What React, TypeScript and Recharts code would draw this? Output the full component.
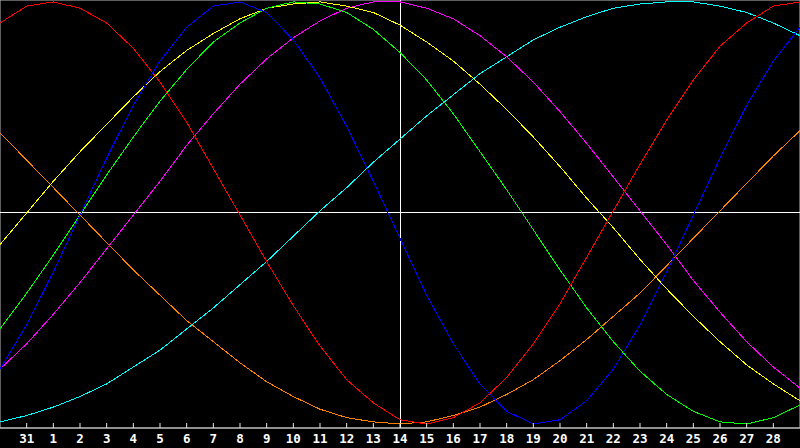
import { LineChart, Line, XAxis, YAxis, ReferenceLine, ReferenceArea } from "recharts";

// one point per day, from the 30th of last month to the 29th
const dayLabels = [
  "30", "31", "1", "2", "3", "4", "5", "6", "7", "8", "9", "10", "11", "12", "13", "14",
  "15", "16", "17", "18", "19", "20", "21", "22", "23", "24", "25", "26", "27", "28", "29",
];
const tickIdx = [1, 2, 3, 4, 5, 6, 7, 8, 9, 10, 11, 12, 13, 14, 15, 16, 17, 18, 19, 20, 21, 22, 23, 24, 25, 26, 27, 28, 29];
const today = 15;

const physical = [-74, -53, -28, -1, 26, 51, 72, 88, 98, 100, 95, 82, 64, 41, 15, -12, -39, -62, -81, -94, -100, -98, -89, -74, -53, -28, -1, 26, 51, 72, 88];
const emotional = [90, 98, 100, 97, 90, 78, 62, 43, 21, -1, -23, -44, -63, -79, -90, -98, -100, -97, -90, -78, -62, -43, -21, 1, 23, 44, 63, 79, 90, 98, 100];
const intellectual = [-55, -38, -20, -1, 18, 36, 53, 68, 81, 90, 97, 100, 99, 95, 87, 76, 63, 47, 29, 11, -8, -27, -45, -61, -75, -86, -94, -99, -100, -97, -91];
const intuitive = [-74, -62, -48, -33, -17, -1, 15, 32, 47, 61, 73, 83, 91, 97, 100, 100, 97, 92, 84, 74, 62, 48, 33, 17, 1, -15, -32, -47, -61, -73, -83];
const aesthetic = [-15, 0, 15, 29, 42, 55, 67, 77, 85, 92, 97, 99, 100, 98, 95, 89, 81, 72, 61, 49, 36, 22, 7, -7, -22, -36, -49, -61, -72, -81, -89];
const awareness = [38, 25, 12, -1, -14, -27, -39, -51, -61, -71, -80, -87, -93, -97, -99, -100, -99, -96, -92, -86, -79, -70, -60, -49, -38, -25, -12, 1, 14, 27, 39];
const spiritual = [-99, -96, -92, -87, -81, -73, -65, -55, -45, -34, -23, -11, 1, 12, 24, 35, 46, 56, 66, 74, 82, 88, 93, 97, 99, 100, 100, 98, 95, 90, 84];

const data = dayLabels.map((label, i) => ({
  i,
  label,
  physical: physical[i],
  emotional: emotional[i],
  intellectual: intellectual[i],
  intuitive: intuitive[i],
  aesthetic: aesthetic[i],
  awareness: awareness[i],
  spiritual: spiritual[i],
}));

const series = [
  { key: "spiritual", color: "#00ffff" },
  { key: "awareness", color: "#ff8000" },
  { key: "intuitive", color: "#ff00ff" },
  { key: "aesthetic", color: "#ffff00" },
  { key: "intellectual", color: "#00ff00" },
  { key: "emotional", color: "#ff0000" },
  { key: "physical", color: "#0000ff" },
];

const Y_MIN = -101.9;
const Y_MAX = 100.9;

function DayTick(props: any) {
  const { x, y, payload } = props;
  return (
    <g>
      <line x1={x} x2={x} y1={y - 5} y2={y} stroke="#e8e8e8" />
      <text x={x} y={y + 15} textAnchor="middle" fill="#ffffff"
            fontFamily="DejaVu Sans Mono" fontWeight="bold" fontSize={12.5}>
        {dayLabels[payload.value]}
      </text>
    </g>
  );
}

export default function App() {
  return (
    <div style={{ width: 800, height: 448, background: "#000" }}>
      <style>{`body{margin:0} .recharts-line path, .recharts-reference-line line, .recharts-reference-area rect{shape-rendering:crispEdges}`}</style>
      <LineChart width={800} height={448} data={data}
                 margin={{ top: 0, right: 0, left: 0, bottom: 0 }}
                 style={{ background: "#000" }}>
        <XAxis dataKey="i" type="number" domain={[0, 30]} ticks={tickIdx}
               height={20} tickSize={0} tickMargin={0} tickLine={false}
               axisLine={{ stroke: "#c0c0c0" }} tick={<DayTick />} interval={0} />
        <YAxis hide domain={[Y_MIN, Y_MAX]} />
        <ReferenceArea x1={0} x2={30} y1={Y_MIN} y2={Y_MAX} fill="none"
                       stroke="#c0c0c0" ifOverflow="visible" />
        <ReferenceLine y={0} stroke="#ffffff" />
        <ReferenceLine x={today} stroke="#ffffff" />
        {series.map(s => (
          <Line key={s.key} type="linear" dataKey={s.key} stroke={s.color}
                strokeWidth={1} dot={false} activeDot={false}
                isAnimationActive={false} />
        ))}
      </LineChart>
    </div>
  );
}
